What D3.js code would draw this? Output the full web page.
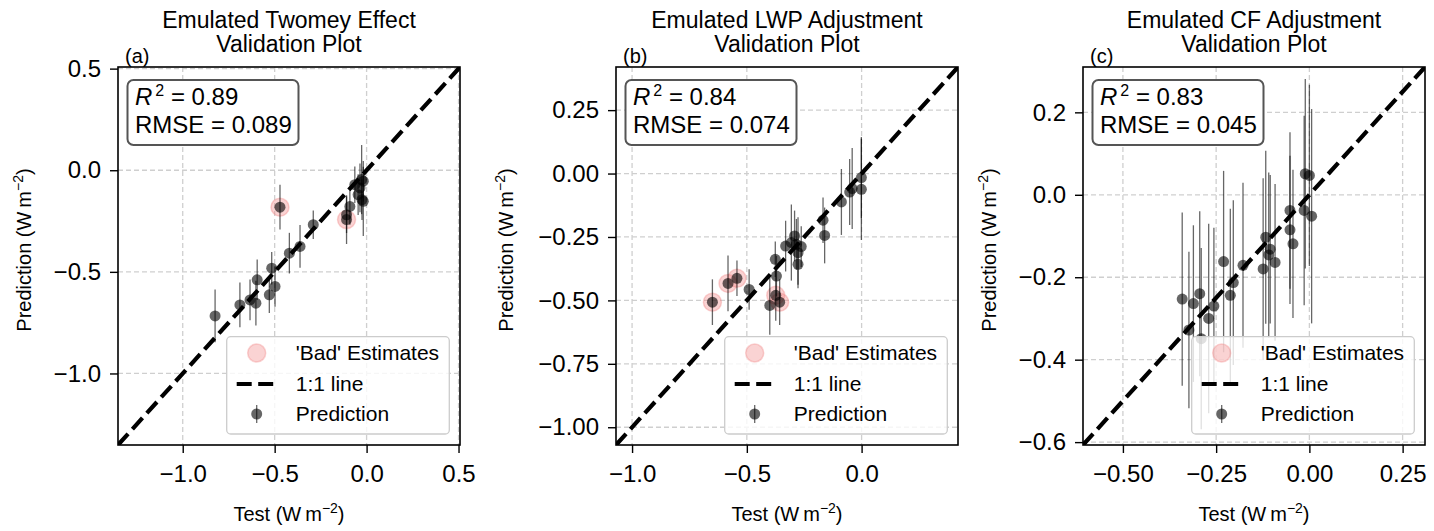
<!DOCTYPE html>
<html>
<head>
<meta charset="utf-8">
<script src="https://cdnjs.cloudflare.com/ajax/libs/d3/7.8.5/d3.min.js"></script>
<style>
  body { margin: 0; background: #fff; }
  svg text { font-family: "Liberation Sans", Arial, sans-serif; fill: #000; }
</style>
</head>
<body>
<div id="chart"></div>
<script>
// values
var twomeyTest = [-0.824, -0.689, -0.634, -0.602, -0.595, -0.529, -0.516, -0.498, -0.471, -0.420, -0.362,
                  -0.290, -0.109, -0.109, -0.091, -0.064, -0.046, -0.036, -0.027, -0.018, -0.018, -0.025];
var twomeyPred = [-0.717, -0.663, -0.638, -0.654, -0.539, -0.613, -0.482, -0.572, -0.182, -0.408, -0.375,
                  -0.268, -0.219, -0.243, -0.178, -0.071, -0.120, -0.087, -0.046, -0.054, -0.153, -0.145];
var twomeyErr  = [0.13, 0.11, 0.10, 0.11, 0.10, 0.09, 0.08, 0.10, 0.11, 0.10, 0.105,
                  0.07, 0.09, 0.12, 0.09, 0.09, 0.10, 0.12, 0.17, 0.10, 0.17, 0.10];
var twomeyBad  = [8, 13];
var twomeyLim  = [-1.352, 0.508];
var twomeyXTicks = [-1.0, -0.5, 0.0, 0.5];
var twomeyYTicks = [-1.0, -0.5, 0.0, 0.5];

var lwpTest = [-0.650, -0.582, -0.543, -0.490, -0.400, -0.376, -0.371, -0.374, -0.357, -0.331, -0.306, -0.292,
               -0.284, -0.277, -0.263, -0.277, -0.168, -0.161, -0.088, -0.052, -0.041, -0.001, -0.001];
var lwpPred = [-0.507, -0.433, -0.413, -0.457, -0.520, -0.338, -0.404, -0.480, -0.507, -0.286, -0.272, -0.246,
               -0.279, -0.312, -0.288, -0.358, -0.184, -0.244, -0.112, -0.073, -0.059, -0.016, -0.062];
var lwpErr  = [0.09, 0.11, 0.07, 0.08, 0.115, 0.07, 0.08, 0.10, 0.09, 0.10, 0.15, 0.10,
               0.10, 0.14, 0.08, 0.08, 0.09, 0.11, 0.13, 0.13, 0.16, 0.16, 0.20];
var lwpBad  = [0, 1, 2, 7, 8];
var lwpLim  = [-1.07, 0.42];
var lwpXTicks = [-1.0, -0.5, 0.0];
var lwpYTicks = [-1.0, -0.75, -0.5, -0.25, 0.0, 0.25];

var cfTest = [-0.341, -0.323, -0.311, -0.294, -0.290, -0.270, -0.256, -0.230, -0.212, -0.204, -0.178, -0.124,
              -0.117, -0.109, -0.105, -0.092, -0.052, -0.052, -0.044, -0.014, -0.011, 0.000, 0.006];
var cfPred = [-0.253, -0.328, -0.264, -0.240, -0.349, -0.300, -0.270, -0.162, -0.244, -0.213, -0.171, -0.180,
              -0.103, -0.146, -0.132, -0.164, -0.038, -0.085, -0.119, -0.038, 0.051, 0.047, -0.052];
var cfErr  = [0.21, 0.19, 0.19, 0.20, 0.22, 0.23, 0.19, 0.22, 0.21, 0.20, 0.20, 0.22,
              0.21, 0.20, 0.18, 0.19, 0.19, 0.18, 0.18, 0.23, 0.23, 0.22, 0.26];
var cfBad  = [];
var cfLim  = [-0.607, 0.31];
var cfXTicks = [-0.5, -0.25, 0.0, 0.25];
var cfYTicks = [-0.6, -0.4, -0.2, 0.0, 0.2];

var titles = ["Emulated Twomey Effect", "Emulated LWP Adjustment", "Emulated CF Adjustment"];
var letters = ["(a)", "(b)", "(c)"];
var r2Values = ["0.89", "0.84", "0.83"];
var rmseValues = ["0.089", "0.074", "0.045"];
var legendLabels = ["'Bad' Estimates", "1:1 line", "Prediction"];

var width = 1434, height = 531;
var plotTop = 67, plotW = 342, plotH = 378;

var panels = [
  { left: 118, test: twomeyTest, pred: twomeyPred, err: twomeyErr, bad: twomeyBad, lim: twomeyLim,
    xticks: twomeyXTicks, yticks: twomeyYTicks, xdec: 1, ydec: 1, ylabX: -87 },
  { left: 616, test: lwpTest, pred: lwpPred, err: lwpErr, bad: lwpBad, lim: lwpLim,
    xticks: lwpXTicks, yticks: lwpYTicks, xdec: 1, ydec: 2, ylabX: -103 },
  { left: 1083, test: cfTest, pred: cfPred, err: cfErr, bad: cfBad, lim: cfLim,
    xticks: cfXTicks, yticks: cfYTicks, xdec: 2, ydec: 1, ylabX: -87 }
];

var svg = d3.select("#chart").append("svg")
  .attr("width", width)
  .attr("height", height);

function fmt(dec) {
  return function(d) {
    var s = Math.abs(d).toFixed(dec);
    return (d < -1e-9 ? "\u2212" : "") + s;
  };
}

// "Label (W m^-2)" with a raised exponent
function unitText(sel, word) {
  sel.append("tspan").text(word + " (W\u2009m");
  sel.append("tspan").attr("dy", -8).style("font-size", "14px").text("\u22122");
  sel.append("tspan").attr("dy", 8).text(")");
}

function drawPanel(p, i) {
  var g = svg.append("g").attr("transform", "translate(" + p.left + "," + plotTop + ")");

  var x = d3.scaleLinear().domain(p.lim).range([0, plotW]);
  var y = d3.scaleLinear().domain(p.lim).range([plotH, 0]);

  svg.append("clipPath").attr("id", "clip" + i)
     .append("rect").attr("width", plotW).attr("height", plotH);

  var inner = g.append("g").attr("clip-path", "url(#clip" + i + ")");

  // grid
  inner.selectAll("line.gx").data(p.xticks).enter().append("line")
       .attr("x1", function(d) { return x(d); })
       .attr("x2", function(d) { return x(d); })
       .attr("y1", 0).attr("y2", plotH)
       .style("stroke", "#cfcfcf").style("stroke-width", 1.3).style("stroke-dasharray", "5,3");
  inner.selectAll("line.gy").data(p.yticks).enter().append("line")
       .attr("y1", function(d) { return y(d); })
       .attr("y2", function(d) { return y(d); })
       .attr("x1", 0).attr("x2", plotW)
       .style("stroke", "#cfcfcf").style("stroke-width", 1.3).style("stroke-dasharray", "5,3");

  var pts = p.test.map(function(t, k) {
    return { t: t, p: p.pred[k], e: p.err[k], bad: p.bad.indexOf(k) >= 0 };
  });

  // 'bad' markers
  inner.selectAll("circle.bad").data(pts.filter(function(d) { return d.bad; })).enter()
       .append("circle")
       .attr("cx", function(d) { return x(d.t); })
       .attr("cy", function(d) { return y(d.p); })
       .attr("r", 9)
       .style("fill", "#f08080").style("fill-opacity", 0.35)
       .style("stroke", "#f08080").style("stroke-opacity", 0.35).style("stroke-width", 1.5);

  // error bars
  inner.selectAll("line.err").data(pts).enter().append("line")
       .attr("x1", function(d) { return x(d.t); })
       .attr("x2", function(d) { return x(d.t); })
       .attr("y1", function(d) { return y(d.p - d.e); })
       .attr("y2", function(d) { return y(d.p + d.e); })
       .style("stroke", "#000").style("stroke-opacity", 0.6).style("stroke-width", 1.3);

  // prediction points
  inner.selectAll("circle.pt").data(pts).enter().append("circle")
       .attr("cx", function(d) { return x(d.t); })
       .attr("cy", function(d) { return y(d.p); })
       .attr("r", 5.5)
       .style("fill", "#000").style("fill-opacity", 0.6);

  // 1:1 line
  inner.append("line")
       .attr("x1", x(p.lim[0])).attr("y1", y(p.lim[0]))
       .attr("x2", x(p.lim[1])).attr("y2", y(p.lim[1]))
       .style("stroke", "#000").style("stroke-width", 4.2).style("stroke-dasharray", "15,6.5");

  // axes
  var xAxis = d3.axisBottom(x).tickValues(p.xticks).tickFormat(fmt(p.xdec)).tickSize(8).tickPadding(12);
  var yAxis = d3.axisLeft(y).tickValues(p.yticks).tickFormat(fmt(p.ydec)).tickSize(8).tickPadding(9);

  var gx = g.append("g").attr("transform", "translate(0," + plotH + ")").call(xAxis);
  var gy = g.append("g").call(yAxis);
  [gx, gy].forEach(function(a) {
    a.select(".domain").remove();
    a.selectAll(".tick line").style("stroke", "#000").style("stroke-width", 1.4);
    a.selectAll(".tick text").style("font-size", "24px").style("font-family", "'Liberation Sans', Arial, sans-serif");
  });

  g.append("rect").attr("width", plotW).attr("height", plotH)
   .style("fill", "none").style("stroke", "#000").style("stroke-width", 1.6);

  // R^2 / RMSE box
  g.append("rect").attr("x", 9.5).attr("y", 13).attr("width", 171).attr("height", 65)
   .attr("rx", 6).attr("ry", 6)
   .style("fill", "#fff").style("stroke", "#555").style("stroke-width", 2);
  var t1 = g.append("text").attr("x", 17).attr("y", 38).style("font-size", "24px");
  t1.append("tspan").style("font-style", "italic").text("R");
  t1.append("tspan").attr("dy", -9).attr("dx", 3).style("font-size", "16px").text("2");
  t1.append("tspan").attr("dy", 9).text(" = " + r2Values[i]);
  g.append("text").attr("x", 17).attr("y", 65.5).style("font-size", "24px")
   .text("RMSE = " + rmseValues[i]);

  // legend
  var lg = g.append("g").attr("transform", "translate(" + (plotW - 10.7 - 222.6) + "," + (plotH - 11 - 97.3) + ")");
  lg.append("rect").attr("width", 222.6).attr("height", 97.3).attr("rx", 4).attr("ry", 4)
    .style("fill", "#fff").style("fill-opacity", 0.8)
    .style("stroke", "#cccccc").style("stroke-width", 1.3);
  lg.append("circle").attr("cx", 30).attr("cy", 16.3).attr("r", 9)
    .style("fill", "#f08080").style("fill-opacity", 0.35)
    .style("stroke", "#f08080").style("stroke-opacity", 0.35).style("stroke-width", 1.5);
  lg.append("line").attr("x1", 10).attr("x2", 51.6).attr("y1", 47.3).attr("y2", 47.3)
    .style("stroke", "#000").style("stroke-width", 4.2).style("stroke-dasharray", "15,6.5");
  lg.append("line").attr("x1", 30).attr("x2", 30).attr("y1", 68.3).attr("y2", 86.3)
    .style("stroke", "#000").style("stroke-opacity", 0.6).style("stroke-width", 1.3);
  lg.append("circle").attr("cx", 30).attr("cy", 77.3).attr("r", 5.5)
    .style("fill", "#000").style("fill-opacity", 0.6);
  lg.selectAll("text.lab").data(legendLabels).enter().append("text")
    .attr("x", 69)
    .attr("y", function(d, k) { return 16.3 + k * 30.5; })
    .attr("dy", "0.35em")
    .style("font-size", "21px")
    .text(function(d) { return d; });

  // titles and labels
  g.append("text").attr("x", plotW / 2).attr("y", 28 - plotTop).attr("text-anchor", "middle")
   .style("font-size", "23px").text(titles[i]);
  g.append("text").attr("x", plotW / 2).attr("y", 52 - plotTop).attr("text-anchor", "middle")
   .style("font-size", "23px").text("Validation Plot");
  g.append("text").attr("x", 7).attr("y", -4).style("font-size", "20px").text(letters[i]);

  var xl = g.append("text").attr("x", plotW / 2).attr("y", plotH + 76)
            .attr("text-anchor", "middle").style("font-size", "20px");
  unitText(xl, "Test");

  var yl = g.append("text")
            .attr("transform", "translate(" + p.ylabX + "," + (plotH / 2 - 6) + ") rotate(-90)")
            .attr("text-anchor", "middle").style("font-size", "20px");
  unitText(yl, "Prediction");
}

panels.forEach(function(p, i) { drawPanel(p, i); });
</script>
</body>
</html>
